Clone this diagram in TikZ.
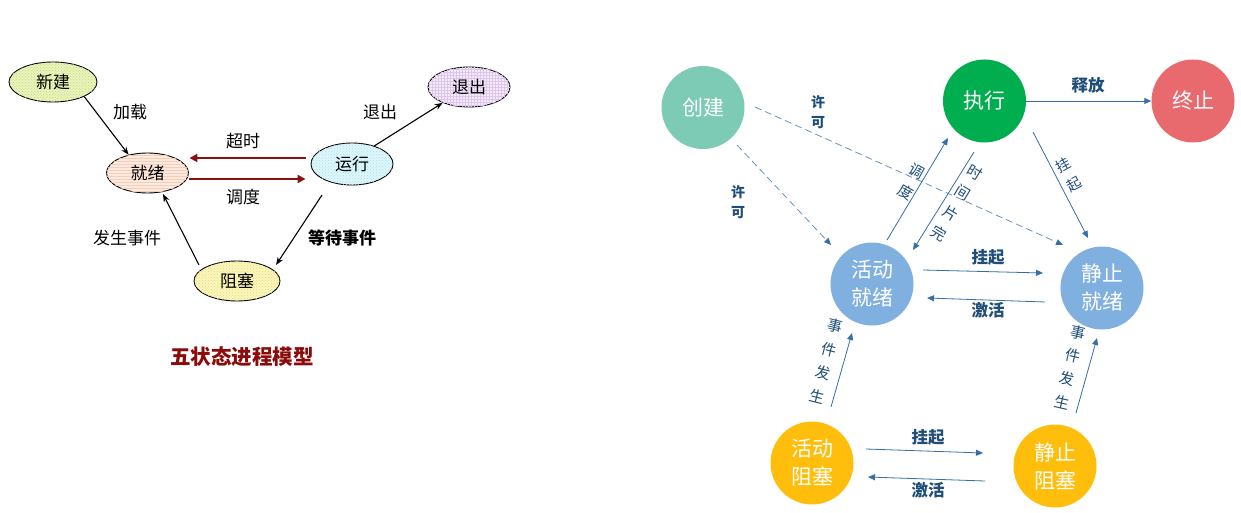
\documentclass[tikz,border=0pt]{standalone}
\usepackage{fontspec}
\newfontfamily\cjk{Noto Sans CJK SC}
\usetikzlibrary{shapes.geometric,arrows.meta,calc,patterns}
\definecolor{cXin}{HTML}{E8F3BC}
\definecolor{cXinD}{HTML}{C8DC80}
\definecolor{cJiu}{HTML}{FCEADF}
\definecolor{cJiuD}{HTML}{F6CDB8}
\definecolor{cYun}{HTML}{DFF6FA}
\definecolor{cYunD}{HTML}{A8E2EE}
\definecolor{cTui}{HTML}{F4EAFA}
\definecolor{cTuiD}{HTML}{DCC6EC}
\definecolor{cZu}{HTML}{FBF7BC}
\definecolor{cZuD}{HTML}{E2DA80}
\definecolor{darkred}{HTML}{8B1010}
\definecolor{titlered}{HTML}{8B0A0A}
\definecolor{cTeal}{HTML}{7DCBB5}
\definecolor{cGreen}{HTML}{00AE4F}
\definecolor{cRed}{HTML}{E96A6E}
\definecolor{cBlue}{HTML}{80B0E0}
\definecolor{cOrange}{HTML}{FFBE0B}
\definecolor{arrblue}{HTML}{3470A6}
\definecolor{dashblue}{HTML}{6C92B8}
\definecolor{labblue}{HTML}{1F4E79}
\begin{document}
\begin{tikzpicture}[x=1pt,y=-1pt,
  lstate/.style={ellipse,draw=black,line width=0.9pt,inner sep=0pt,minimum height=40pt,
    font=\cjk\fontsize{17}{17}\selectfont},
  llab/.style={font=\cjk\fontsize{17}{17}\selectfont},
  larr/.style={draw=black,line width=1.1pt,-{Stealth[length=8pt,width=6pt]}},
  redarr/.style={draw=darkred,line width=2.5pt,-{Triangle[length=8pt,width=8pt]}},
  rstate/.style={circle,minimum size=83pt,inner sep=0pt,text=white,align=center,
    font=\cjk\fontsize{21}{28}\selectfont},
  rlab/.style={text=labblue,font=\cjk\bfseries\fontsize{16.5}{16.5}\selectfont},
  slab/.style={text=labblue,align=center,font=\cjk\bfseries\fontsize{14}{20}\selectfont},
  vlab/.style={text=labblue,align=center,inner sep=1pt,font=\cjk\fontsize{15}{23.5}\selectfont},
  rarr/.style={draw=arrblue,line width=0.8pt,-{Triangle[length=7pt,width=6pt]}},
  rdash/.style={draw=dashblue,line width=0.8pt,dash pattern=on 7pt off 4pt,
    -{Triangle[length=7pt,width=6pt,color=arrblue]}}
]
\fill[white] (0,0) rectangle (1241,513);
\useasboundingbox (0,0) rectangle (1241,513);

% ---------------- left: five-state model ----------------
\node[lstate,minimum width=88pt,fill=cXin,postaction={pattern=crosshatch dots,pattern color=cXinD}] (xj) at (53,82) {新建};
\node[lstate,minimum width=82pt,fill=cJiu,postaction={pattern=horizontal lines,pattern color=cJiuD}] (jx) at (147.5,173) {就绪};
\node[lstate,minimum width=82pt,minimum height=42pt,fill=cYun,postaction={pattern=crosshatch dots,pattern color=cYunD}] (yx) at (352,164) {运行};
\node[lstate,minimum width=82pt,fill=cTui,postaction={pattern=grid,pattern color=cTuiD}] (tc) at (469,87) {退出};
\node[lstate,minimum width=86pt,fill=cZu,postaction={pattern=crosshatch dots,pattern color=cZuD}] (zs) at (237,281) {阻塞};

\draw[larr] (xj.-25) -- (jx.136);
\node[llab] (l1) at (130,112) {加载};
\draw[redarr] ($(yx.west)+(-5,-6)$) -- ($(jx.east)+(0.5,-15)$);
\draw[redarr] ($(jx.east)+(0,6)$) -- ($(yx.west)+(-5,15)$);
\node[llab] (l2) at (243,141) {超时};
\node[llab] (l3) at (243,197) {调度};
\draw[larr] (yx.39) -- (tc.211);
\node[llab] (l4) at (380,112) {退出};
\draw[larr] ($(yx)+(-30,31)$) -- ($(zs)+(39,-16)$);
\node[llab,font=\cjk\bfseries\fontsize{17}{17}\selectfont] (l5) at (342,238) {等待事件};
\draw[larr] ($(zs)+(-38,-16)$) -- ($(jx)+(15.5,21)$);
\node[llab] (l6) at (127,238) {发生事件};
\node[text=titlered,font=\cjk\bfseries\fontsize{20.5}{20.5}\selectfont] (title) at (242,357) {五状态进程模型};

% ---------------- right: seven-state model ----------------
\node[rstate,fill=cTeal] (cj) at (703,107.5) {创建};
\node[rstate,fill=cGreen] (zx) at (984.5,101) {执行};
\node[rstate,fill=cRed] (zz) at (1193,101) {终止};
\node[rstate,fill=cBlue] (hj) at (872,284) {活动\\就绪};
\node[rstate,fill=cBlue] (jj) at (1102,288) {静止\\就绪};
\node[rstate,fill=cOrange] (hz) at (812,463) {活动\\阻塞};
\node[rstate,fill=cOrange] (jz) at (1055,466) {静止\\阻塞};

\draw[rarr] (zx) -- (zz);
\node[rlab] (r1) at (1088,85) {释放};

\draw[rdash] ($(cj)+(34,37.5)$) -- ($(hj)+(-41,-39)$);
\node[slab] (r2) at (738,202) {许\\可};
\draw[rdash] ($(cj)+(52,-0.5)$) -- ($(jj)+(-39,-43)$);
\node[slab] (r3) at (818,112) {许\\可};

\draw[rarr] ($(hj)+(15,-44)$) -- ($(zx)+(-36.5,37)$);
\node[vlab,rotate=-29] (r4) at (911,182) {调\\度};
\draw[rarr] ($(zx)+(-10.5,51)$) -- ($(hj)+(41,-34)$);
\node[vlab,rotate=-31] (r5) at (956.5,203) {时\\间\\片\\完};
\draw[rarr] ($(zx)+(48.5,31)$) -- ($(jj)+(-14,-50)$);
\node[vlab,rotate=29,font=\cjk\fontsize{14.5}{22}\selectfont] (r6) at (1069,175) {挂\\起};

\draw[rarr] ($(hj)+(51,-14)$) -- ($(jj)+(-59,-15)$);
\node[rlab] (r7) at (988,257) {挂起};
\draw[rarr] ($(jj)+(-57,14)$) -- ($(hj)+(55,14)$);
\node[rlab] (r8) at (988,310) {激活};

\draw[rarr] ($(hz)+(19,-56)$) -- ($(hj)+(-20,49)$);
\node[vlab,rotate=-14,font=\cjk\fontsize{15}{24.5}\selectfont] (r9) at (826,361) {事\\件\\发\\生};
\draw[rarr] ($(jz)+(21,-53)$) -- ($(jj)+(-5,50)$);
\node[vlab,rotate=-13,font=\cjk\fontsize{15}{24}\selectfont] (r10) at (1070,367) {事\\件\\发\\生};

\draw[rarr] ($(hz)+(54,-14)$) -- ($(jz)+(-72,-13)$);
\node[rlab] (r11) at (928,437) {挂起};
\draw[rarr] ($(jz)+(-70,15)$) -- ($(hz)+(56,14)$);
\node[rlab] (r12) at (928,490) {激活};
\end{tikzpicture}
\end{document}
